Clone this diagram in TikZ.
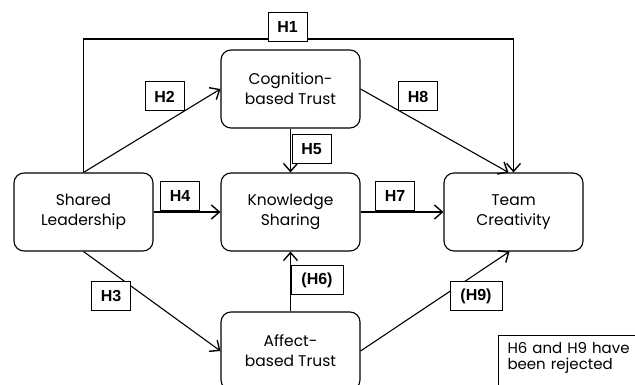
\documentclass[tikz,border=0pt]{standalone}
\usepackage{fontspec}
\setmainfont{Poppins}
\newfontfamily\hfont{Liberation Sans}
\usepackage{tikz}
\usetikzlibrary{arrows.meta}

\begin{document}
\begin{tikzpicture}[
  x=1pt, y=1pt,
  box/.style={draw, rounded corners=10pt, line width=1.1pt, fill=white,
              minimum width=139pt, minimum height=78pt, align=center,
              inner sep=0pt, font=\fontsize{15.5}{20}\selectfont},
  hyp/.style={draw, fill=white, line width=1pt, minimum width=39pt,
              minimum height=29pt, inner sep=0pt,
              font=\hfont\bfseries\fontsize{16}{18}\selectfont},
  rej/.style={hyp, minimum width=52pt},
  link/.style={line width=1.1pt,
               -{Straight Barb[length=8pt, width=14pt, line width=1.4pt]}}
]
\clip (0,0) rectangle (635,385);
\fill[white] (0,0) rectangle (635,385);

% ---- constructs ----------------------------------------------------------
\node[box] (lead) at (83.5,173) {Shared\\Leadership};
\node[box] (cog)  at (290.5,296) {Cognition-\\based Trust};
\node[box] (know) at (290.5,173) {Knowledge\\Sharing};
\node[box] (team) at (513.5,173) {Team\\Creativity};
\node[box] (aff)  at (290.5,34) {Affect-\\based Trust};

% ---- paths ---------------------------------------------------------------
\coordinate (top) at (83.5,346);
\draw[link] (lead.north) -- (top) -| (team.north);
\draw[link] (lead.north) -- (cog.west);
\draw[link] (lead.south) -- (aff.west);
\draw[link] (lead.east) -- (know.west);
\draw[link] (cog.south) -- (know.north);
\draw[link] (aff.north) -- (know.south);
\draw[link] (know.east) -- (team.west);
\draw[link] (cog.east) -- ([xshift=-5pt]team.north);
\draw[link] (aff.east) -- ([xshift=-4pt]team.south);

% ---- hypotheses ----------------------------------------------------------
\node[hyp] (h1) at (287.5,357.5) {H1};
\node[hyp] (h2) at (164.5,288.5) {H2};
\node[hyp] (h3) at (111,89) {H3};
\node[hyp] (h4) at (180,188.5) {H4};
\node[hyp] (h5) at (311.5,235.5) {H5};
\node[rej] (h6) at (317,104.5) {(H6)};
\node[hyp] (h7) at (395,188.5) {H7};
\node[hyp] (h8) at (418,288.5) {H8};
\node[rej] (h9) at (476,89) {(H9)};

% ---- note ----------------------------------------------------------------
\node[draw, line width=1pt, anchor=north west, align=left, text width=140pt,
      inner xsep=9pt, inner ysep=7pt, text depth=40pt,
      font=\fontsize{15}{16}\selectfont] (note) at (498,50)
  {H6 and H9 have\\been rejected};
\end{tikzpicture}
\end{document}
